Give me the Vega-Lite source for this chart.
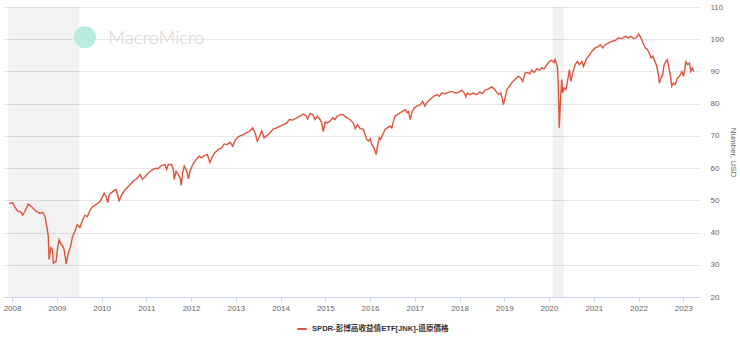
{
  "$schema": "https://vega.github.io/schema/vega-lite/v6.json",
  "width": 697,
  "height": 290,
  "autosize": {"type": "none"},
  "padding": {"left": 3, "top": 7, "right": 40, "bottom": 41},
  "background": "white",
  "config": {"view": {"stroke": null}, "font": "Liberation Sans"},
  "datasets": {
    "bands": [
      {"date": "2007-12-01", "end": "2009-07-01"},
      {"date": "2020-02-01", "end": "2020-04-30"}
    ],
    "logo": [{"date": "2009-08-18", "value": 100.6}],
    "brand": [{"date": "2010-02-25", "value": 98.6, "label": "MacroMicro"}],
    "price": [
      {"date": "2007-12-09", "value": 49.0}, {"date": "2008-01-06", "value": 49.3}, {"date": "2008-01-25", "value": 47.8},
      {"date": "2008-02-09", "value": 47.0}, {"date": "2008-02-22", "value": 46.5}, {"date": "2008-03-11", "value": 46.5},
      {"date": "2008-03-27", "value": 45.4}, {"date": "2008-04-16", "value": 46.6}, {"date": "2008-05-12", "value": 48.8},
      {"date": "2008-06-09", "value": 48.0}, {"date": "2008-06-22", "value": 47.5}, {"date": "2008-07-19", "value": 46.5},
      {"date": "2008-08-16", "value": 46.0}, {"date": "2008-09-08", "value": 46.2}, {"date": "2008-09-26", "value": 45.0},
      {"date": "2008-10-10", "value": 42.0}, {"date": "2008-10-23", "value": 38.8}, {"date": "2008-10-29", "value": 31.6},
      {"date": "2008-11-12", "value": 35.3}, {"date": "2008-11-25", "value": 34.7}, {"date": "2008-12-03", "value": 30.5},
      {"date": "2008-12-25", "value": 31.0}, {"date": "2009-01-05", "value": 34.7}, {"date": "2009-01-19", "value": 37.8},
      {"date": "2009-02-05", "value": 36.3}, {"date": "2009-02-19", "value": 35.7}, {"date": "2009-03-01", "value": 34.7},
      {"date": "2009-03-13", "value": 31.6}, {"date": "2009-03-18", "value": 30.3}, {"date": "2009-04-04", "value": 33.6},
      {"date": "2009-04-23", "value": 35.7}, {"date": "2009-05-09", "value": 38.8}, {"date": "2009-05-28", "value": 40.3},
      {"date": "2009-06-16", "value": 42.4}, {"date": "2009-07-08", "value": 41.6}, {"date": "2009-07-30", "value": 43.9},
      {"date": "2009-08-18", "value": 45.4}, {"date": "2009-09-07", "value": 44.9}, {"date": "2009-09-29", "value": 47.0},
      {"date": "2009-10-20", "value": 48.0}, {"date": "2009-11-09", "value": 48.5}, {"date": "2009-11-28", "value": 49.0},
      {"date": "2009-12-19", "value": 49.6}, {"date": "2010-01-02", "value": 50.6}, {"date": "2010-01-21", "value": 52.2},
      {"date": "2010-02-07", "value": 51.2}, {"date": "2010-02-21", "value": 49.3}, {"date": "2010-03-04", "value": 51.7},
      {"date": "2010-04-01", "value": 52.7}, {"date": "2010-04-28", "value": 53.4}, {"date": "2010-05-08", "value": 52.2},
      {"date": "2010-05-24", "value": 49.9}, {"date": "2010-06-13", "value": 51.7}, {"date": "2010-07-10", "value": 53.2},
      {"date": "2010-08-15", "value": 54.6}, {"date": "2010-09-17", "value": 56.0}, {"date": "2010-10-14", "value": 56.7},
      {"date": "2010-11-11", "value": 58.0}, {"date": "2010-11-29", "value": 56.5}, {"date": "2010-12-21", "value": 57.3},
      {"date": "2011-01-18", "value": 58.5}, {"date": "2011-02-15", "value": 59.4}, {"date": "2011-03-12", "value": 59.9},
      {"date": "2011-04-08", "value": 59.9}, {"date": "2011-05-05", "value": 60.8}, {"date": "2011-06-02", "value": 61.1},
      {"date": "2011-06-16", "value": 59.6}, {"date": "2011-06-29", "value": 61.1}, {"date": "2011-07-26", "value": 61.1},
      {"date": "2011-08-09", "value": 59.6}, {"date": "2011-08-17", "value": 56.5}, {"date": "2011-09-01", "value": 59.0},
      {"date": "2011-09-19", "value": 58.0}, {"date": "2011-10-03", "value": 57.0}, {"date": "2011-10-13", "value": 54.6},
      {"date": "2011-10-24", "value": 58.5}, {"date": "2011-11-07", "value": 60.6}, {"date": "2011-11-27", "value": 59.0},
      {"date": "2011-12-10", "value": 56.7}, {"date": "2011-12-24", "value": 59.0}, {"date": "2012-01-15", "value": 61.1},
      {"date": "2012-02-12", "value": 62.7}, {"date": "2012-03-08", "value": 63.7}, {"date": "2012-03-28", "value": 63.2},
      {"date": "2012-04-16", "value": 63.9}, {"date": "2012-05-13", "value": 64.2}, {"date": "2012-06-04", "value": 61.7},
      {"date": "2012-06-18", "value": 63.2}, {"date": "2012-07-14", "value": 64.8}, {"date": "2012-08-11", "value": 65.8},
      {"date": "2012-09-08", "value": 66.3}, {"date": "2012-09-27", "value": 67.5}, {"date": "2012-10-19", "value": 67.3},
      {"date": "2012-11-15", "value": 68.0}, {"date": "2012-12-07", "value": 66.8}, {"date": "2012-12-26", "value": 68.7},
      {"date": "2013-01-22", "value": 69.7}, {"date": "2013-02-05", "value": 70.0}, {"date": "2013-03-03", "value": 70.4},
      {"date": "2013-03-30", "value": 71.0}, {"date": "2013-04-26", "value": 71.5}, {"date": "2013-05-18", "value": 72.5},
      {"date": "2013-06-06", "value": 71.0}, {"date": "2013-06-25", "value": 68.4}, {"date": "2013-07-09", "value": 69.4},
      {"date": "2013-07-31", "value": 71.5}, {"date": "2013-08-19", "value": 69.4}, {"date": "2013-09-10", "value": 70.0},
      {"date": "2013-10-07", "value": 71.0}, {"date": "2013-11-04", "value": 72.2}, {"date": "2013-12-01", "value": 72.5},
      {"date": "2013-12-28", "value": 73.0}, {"date": "2014-01-24", "value": 73.5}, {"date": "2014-02-21", "value": 74.0},
      {"date": "2014-03-13", "value": 75.1}, {"date": "2014-04-10", "value": 74.9}, {"date": "2014-05-12", "value": 75.6},
      {"date": "2014-06-09", "value": 76.1}, {"date": "2014-07-05", "value": 76.8}, {"date": "2014-07-27", "value": 76.3},
      {"date": "2014-08-10", "value": 75.3}, {"date": "2014-08-29", "value": 76.9}, {"date": "2014-09-21", "value": 76.6},
      {"date": "2014-10-09", "value": 75.1}, {"date": "2014-10-28", "value": 76.1}, {"date": "2014-11-19", "value": 75.1},
      {"date": "2014-12-03", "value": 74.0}, {"date": "2014-12-16", "value": 71.3}, {"date": "2014-12-30", "value": 74.3},
      {"date": "2015-01-18", "value": 74.0}, {"date": "2015-02-10", "value": 74.6}, {"date": "2015-03-02", "value": 75.6},
      {"date": "2015-03-20", "value": 75.1}, {"date": "2015-04-09", "value": 76.1}, {"date": "2015-05-01", "value": 76.6},
      {"date": "2015-05-27", "value": 76.6}, {"date": "2015-06-25", "value": 75.6}, {"date": "2015-07-21", "value": 75.1},
      {"date": "2015-08-18", "value": 74.0}, {"date": "2015-09-02", "value": 72.2}, {"date": "2015-09-20", "value": 73.5},
      {"date": "2015-10-12", "value": 72.3}, {"date": "2015-11-08", "value": 72.0}, {"date": "2015-11-22", "value": 70.4},
      {"date": "2015-12-05", "value": 68.9}, {"date": "2015-12-18", "value": 68.4}, {"date": "2016-01-02", "value": 69.1},
      {"date": "2016-01-16", "value": 67.3}, {"date": "2016-01-29", "value": 66.6}, {"date": "2016-02-12", "value": 65.3},
      {"date": "2016-02-20", "value": 64.2}, {"date": "2016-03-01", "value": 66.6}, {"date": "2016-03-17", "value": 69.4},
      {"date": "2016-03-28", "value": 68.9}, {"date": "2016-04-14", "value": 70.4}, {"date": "2016-05-03", "value": 72.0},
      {"date": "2016-05-21", "value": 72.5}, {"date": "2016-06-13", "value": 73.0}, {"date": "2016-06-27", "value": 72.5},
      {"date": "2016-07-10", "value": 74.5}, {"date": "2016-07-24", "value": 76.1}, {"date": "2016-08-12", "value": 76.6},
      {"date": "2016-09-04", "value": 77.2}, {"date": "2016-09-25", "value": 77.6}, {"date": "2016-10-14", "value": 78.2},
      {"date": "2016-10-28", "value": 77.2}, {"date": "2016-11-10", "value": 77.6}, {"date": "2016-11-24", "value": 75.1},
      {"date": "2016-12-08", "value": 77.2}, {"date": "2016-12-26", "value": 78.7}, {"date": "2017-01-18", "value": 79.2},
      {"date": "2017-02-14", "value": 79.7}, {"date": "2017-03-06", "value": 80.7}, {"date": "2017-03-25", "value": 79.2},
      {"date": "2017-04-08", "value": 80.3}, {"date": "2017-05-05", "value": 81.3}, {"date": "2017-06-02", "value": 82.3},
      {"date": "2017-06-29", "value": 82.8}, {"date": "2017-07-20", "value": 82.3}, {"date": "2017-08-09", "value": 83.3},
      {"date": "2017-09-05", "value": 83.1}, {"date": "2017-10-02", "value": 83.5}, {"date": "2017-10-30", "value": 83.8},
      {"date": "2017-11-26", "value": 83.3}, {"date": "2017-12-23", "value": 83.5}, {"date": "2018-01-20", "value": 84.2},
      {"date": "2018-02-09", "value": 83.3}, {"date": "2018-02-22", "value": 82.1}, {"date": "2018-03-05", "value": 83.3},
      {"date": "2018-03-27", "value": 82.8}, {"date": "2018-04-23", "value": 83.3}, {"date": "2018-05-21", "value": 82.8},
      {"date": "2018-06-17", "value": 83.6}, {"date": "2018-07-09", "value": 83.1}, {"date": "2018-07-28", "value": 84.2},
      {"date": "2018-08-24", "value": 84.6}, {"date": "2018-09-21", "value": 85.2}, {"date": "2018-10-10", "value": 84.6},
      {"date": "2018-10-26", "value": 83.8}, {"date": "2018-11-14", "value": 82.8}, {"date": "2018-12-04", "value": 83.3},
      {"date": "2018-12-14", "value": 81.8}, {"date": "2018-12-25", "value": 79.7}, {"date": "2019-01-08", "value": 81.8},
      {"date": "2019-01-22", "value": 84.4}, {"date": "2019-02-13", "value": 85.4}, {"date": "2019-03-02", "value": 86.4},
      {"date": "2019-03-29", "value": 87.5}, {"date": "2019-04-25", "value": 88.5}, {"date": "2019-05-15", "value": 88.0},
      {"date": "2019-06-01", "value": 86.9}, {"date": "2019-06-20", "value": 89.5}, {"date": "2019-07-08", "value": 89.7},
      {"date": "2019-07-30", "value": 89.3}, {"date": "2019-08-13", "value": 90.4}, {"date": "2019-09-02", "value": 89.7},
      {"date": "2019-09-24", "value": 90.8}, {"date": "2019-10-15", "value": 90.4}, {"date": "2019-11-04", "value": 91.1},
      {"date": "2019-11-23", "value": 90.8}, {"date": "2019-12-14", "value": 92.1}, {"date": "2020-01-05", "value": 93.1},
      {"date": "2020-01-24", "value": 93.5}, {"date": "2020-02-12", "value": 92.8}, {"date": "2020-02-20", "value": 93.7},
      {"date": "2020-03-09", "value": 91.6}, {"date": "2020-03-17", "value": 86.4}, {"date": "2020-03-25", "value": 72.5},
      {"date": "2020-04-03", "value": 80.3}, {"date": "2020-04-14", "value": 87.5}, {"date": "2020-04-22", "value": 83.3},
      {"date": "2020-05-03", "value": 84.9}, {"date": "2020-05-19", "value": 84.4}, {"date": "2020-06-03", "value": 87.5},
      {"date": "2020-06-16", "value": 90.6}, {"date": "2020-06-27", "value": 86.9}, {"date": "2020-07-13", "value": 89.5},
      {"date": "2020-08-02", "value": 92.1}, {"date": "2020-08-20", "value": 93.1}, {"date": "2020-09-07", "value": 92.1},
      {"date": "2020-09-26", "value": 93.1}, {"date": "2020-10-09", "value": 91.6}, {"date": "2020-11-01", "value": 93.9},
      {"date": "2020-11-19", "value": 94.7}, {"date": "2020-12-16", "value": 96.2}, {"date": "2021-01-13", "value": 97.3},
      {"date": "2021-02-10", "value": 97.8}, {"date": "2021-02-23", "value": 98.3}, {"date": "2021-03-15", "value": 97.3},
      {"date": "2021-04-04", "value": 98.3}, {"date": "2021-04-30", "value": 98.8}, {"date": "2021-05-28", "value": 99.3},
      {"date": "2021-06-24", "value": 99.6}, {"date": "2021-07-21", "value": 100.4}, {"date": "2021-08-18", "value": 100.2},
      {"date": "2021-09-15", "value": 100.9}, {"date": "2021-10-11", "value": 100.4}, {"date": "2021-10-31", "value": 100.9},
      {"date": "2021-11-21", "value": 100.2}, {"date": "2021-12-13", "value": 100.4}, {"date": "2022-01-02", "value": 101.6},
      {"date": "2022-01-21", "value": 100.4}, {"date": "2022-02-07", "value": 98.8}, {"date": "2022-02-25", "value": 97.3},
      {"date": "2022-03-14", "value": 96.8}, {"date": "2022-03-30", "value": 95.7}, {"date": "2022-04-14", "value": 94.2},
      {"date": "2022-04-28", "value": 94.7}, {"date": "2022-05-16", "value": 93.1}, {"date": "2022-05-30", "value": 91.6},
      {"date": "2022-06-12", "value": 89.0}, {"date": "2022-06-20", "value": 86.4}, {"date": "2022-07-04", "value": 88.0},
      {"date": "2022-07-18", "value": 89.0}, {"date": "2022-07-29", "value": 92.1}, {"date": "2022-08-12", "value": 93.1},
      {"date": "2022-08-25", "value": 93.7}, {"date": "2022-09-06", "value": 91.1}, {"date": "2022-09-17", "value": 89.0},
      {"date": "2022-09-30", "value": 85.4}, {"date": "2022-10-13", "value": 86.4}, {"date": "2022-10-27", "value": 85.9},
      {"date": "2022-11-15", "value": 88.0}, {"date": "2022-12-02", "value": 88.5}, {"date": "2022-12-21", "value": 90.0},
      {"date": "2023-01-04", "value": 88.5}, {"date": "2023-01-23", "value": 93.0}, {"date": "2023-02-06", "value": 92.1},
      {"date": "2023-02-20", "value": 92.6}, {"date": "2023-03-04", "value": 90.0}, {"date": "2023-03-16", "value": 91.1},
      {"date": "2023-03-30", "value": 90.0}
    ]
  },
  "layer": [
    {
      "data": {"name": "bands"},
      "mark": {"type": "rect", "fill": "#000000", "fillOpacity": 0.05},
      "encoding": {
        "x": {"field": "date", "type": "temporal", "scale": {"type": "utc", "domain": [{"year": 2007, "month": 10, "date": 19, "utc": true}, {"year": 2023, "month": 5, "date": 18, "utc": true}]}},
        "x2": {"field": "end"}
      }
    },
    {
      "data": {"name": "logo"},
      "mark": {"type": "point", "shape": "circle", "filled": true, "size": 483, "color": "#b8ece0", "opacity": 1},
      "encoding": {
        "x": {"field": "date", "type": "temporal", "scale": {"type": "utc"}},
        "y": {
          "field": "value", "type": "quantitative",
          "scale": {"domain": [20, 110], "nice": false, "zero": false},
          "axis": {
            "orient": "right", "values": [20, 30, 40, 50, 60, 70, 80, 90, 100, 110],
            "labelOverlap": false, "labelFlush": false,
            "title": "Number, USD", "titleFontSize": 8, "titleFontWeight": "normal", "titleColor": "#666666", "titlePadding": 5,
            "labelColor": "#666666", "labelFontSize": 8, "labelPadding": 10,
            "ticks": false, "tickSize": 0, "domain": false, "gridColor": "#e6e6e6"
          }
        }
      }
    },
    {
      "data": {"name": "brand"},
      "mark": {"type": "text", "align": "left", "baseline": "alphabetic", "fontSize": 18.5, "font": "Lato", "fontWeight": 300, "color": "#d2d2d2"},
      "encoding": {
        "x": {"field": "date", "type": "temporal", "scale": {"type": "utc"}},
        "y": {
          "field": "value", "type": "quantitative",
          "scale": {"domain": [20, 110], "nice": false, "zero": false},
          "axis": {
            "orient": "right", "values": [20, 30, 40, 50, 60, 70, 80, 90, 100, 110],
            "labelOverlap": false, "labelFlush": false,
            "title": "Number, USD", "titleFontSize": 8, "titleFontWeight": "normal", "titleColor": "#666666", "titlePadding": 5,
            "labelColor": "#666666", "labelFontSize": 8, "labelPadding": 10,
            "ticks": false, "tickSize": 0, "domain": false, "gridColor": "#e6e6e6"
          }
        },
        "text": {"field": "label"}
      }
    },
    {
      "data": {"name": "price"},
      "mark": {"type": "line", "strokeWidth": 1.4},
      "encoding": {
        "x": {
          "field": "date", "type": "temporal",
          "scale": {"type": "utc"},
          "axis": {
            "title": null, "format": "%Y", "tickCount": {"interval": "year", "step": 1},
            "grid": false, "labelFlush": false, "labelOverlap": false,
            "domainColor": "#ccd6eb", "tickColor": "#ccd6eb", "tickSize": 5,
            "labelColor": "#666666", "labelFontSize": 8, "labelPadding": 2
          }
        },
        "y": {
          "field": "value", "type": "quantitative",
          "scale": {"domain": [20, 110], "nice": false, "zero": false},
          "axis": {
            "orient": "right", "values": [20, 30, 40, 50, 60, 70, 80, 90, 100, 110],
            "labelOverlap": false, "labelFlush": false,
            "title": "Number, USD", "titleFontSize": 8, "titleFontWeight": "normal", "titleColor": "#666666", "titlePadding": 5,
            "labelColor": "#666666", "labelFontSize": 8, "labelPadding": 10,
            "ticks": false, "tickSize": 0, "domain": false, "gridColor": "#e6e6e6"
          }
        },
        "color": {
          "datum": "SPDR-彭博高收益債ETF[JNK]-還原價格",
          "type": "nominal",
          "scale": {"range": ["#e0533b"]},
          "legend": {
            "orient": "none", "legendX": 293, "legendY": 316, "title": null,
            "symbolType": "stroke", "symbolStrokeWidth": 2, "symbolSize": 90,
            "labelFontSize": 7.6, "labelFontWeight": "bold", "labelColor": "#333333",
            "labelFont": "Liberation Sans, Noto Sans CJK TC, sans-serif"
          }
        }
      }
    }
  ]
}
